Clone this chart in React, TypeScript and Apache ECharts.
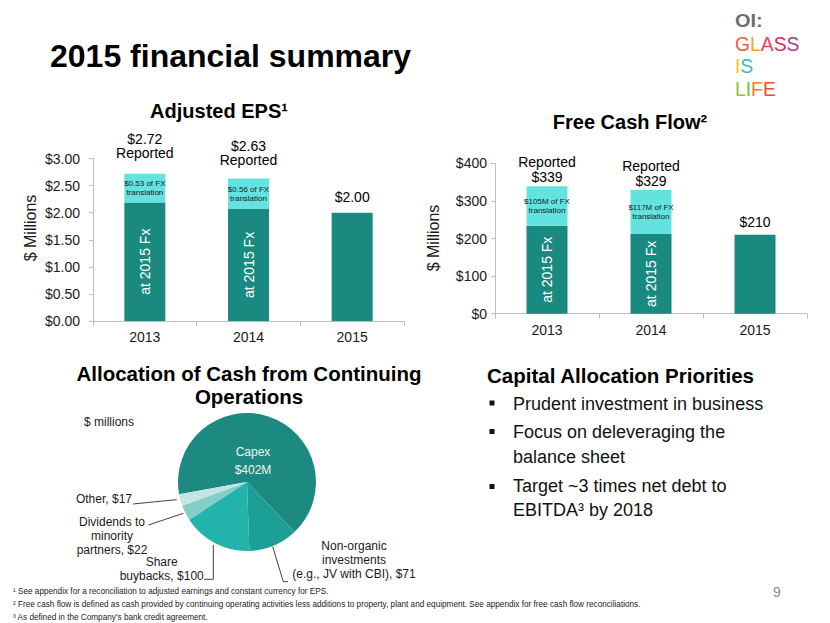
import React, { useEffect, useRef } from 'react';
import * as echarts from 'echarts';

// ---------- data ----------
const years = ['2013', '2014', '2015'];
const epsAt2015Fx = [2.19, 2.07, 2.0];
const epsFxTranslation = [0.53, 0.56, 0];
const epsReported = [2.72, 2.63, 2.0];
const epsFxText = ['$0.53 of FX\ntranslation', '$0.56 of FX\ntranslation', ''];

const fcfAt2015Fx = [234, 212, 210];
const fcfFxTranslation = [105, 117, 0];
const fcfReported = [339, 329, 210];
const fcfFxText = ['$105M of FX\ntranslation', '$117M of FX\ntranslation', ''];

const allocationNames = [
  'Capex',
  'Non-organic\ninvestments\n(e.g., JV with CBI)',
  'Share\nbuybacks',
  'Dividends to\nminority\npartners',
  'Other',
];
const allocationValues = [402, 71, 100, 22, 17];

const priorities = [
  ['Prudent investment in business'],
  ['Focus on deleveraging the', 'balance sheet'],
  ['Target ~3 times net debt to', 'EBITDA\u00b3 by 2018'],
];

const footnotes = [
  '\u00b9 See appendix for a reconciliation to adjusted earnings and constant currency for EPS.',
  '\u00b2 Free cash flow is defined as cash provided by continuing operating activities less additions to property, plant and equipment. See appendix for free cash flow reconciliations.',
  '\u00b3 As defined in the Company\u2019s bank credit agreement.',
];

// ---------- styles ----------
const FONT = 'Liberation Sans, Arial, Helvetica, sans-serif';
const DARK = '#1A8A80';
const LIGHT = '#62E3E0';
const PIE_COLORS = ['#1C8A80', '#1C9F97', '#22B4AC', '#84CDC8', '#C3E6E3'];
const AXIS = '#BFBFBF';
const INK = '#1a1a1a';
const EPS_LABEL_GAP = [13, 11, 8];
const FCF_LABEL_GAP = [2, 2, 5];

const pieLabelPlacement: any[] = [
  { x: 253, y: 461, align: 'center' },
  { x: 354, y: 560, align: 'center', line: [[272.7, 546.7], [283.3, 581.7], [288, 581.7]] },
  { x: 161.7, y: 569, align: 'center', line: [[213.3, 545], [213.3, 579.3], [204, 579.3]] },
  { x: 112, y: 536, align: 'center', line: [[183.3, 513.3], [165.8, 519.2], [148.3, 525]] },
  { x: 132, y: 499, align: 'right', line: [[176.7, 499.7], [154.7, 501.8], [133, 504]] },
];

function text(x: number, y: number, t: string, o: any = {}) {
  const align = o.align || 'left';
  const va = o.va || 'middle';
  return {
    type: 'text',
    x,
    y,
    rotation: o.rotation || 0,
    scaleX: o.scaleX || 1,
    silent: true,
    style: {
      text: t,
      fill: o.color || INK,
      fontFamily: FONT,
      fontSize: o.size || 14,
      fontWeight: o.weight || 'normal',
      lineHeight: o.lineHeight,
      align,
      textAlign: align,
      verticalAlign: va,
      textVerticalAlign: va,
    },
  };
}

function richLetters(x: number, y: number, letters: string[], colors: string[], size: number) {
  const rich: any = {};
  let str = '';
  letters.forEach((l, i) => {
    rich['c' + i] = { fill: colors[i], color: colors[i], fontSize: size, fontFamily: FONT };
    str += `{c${i}|${l}}`;
  });
  return {
    type: 'text',
    x,
    y,
    scaleX: 0.92,
    silent: true,
    style: {
      text: str,
      fontFamily: FONT,
      fontSize: size,
      align: 'left',
      textAlign: 'left',
      verticalAlign: 'middle',
      textVerticalAlign: 'middle',
      rich,
    },
  };
}

function buildOption() {
  const yAxisCommon = {
    axisLine: { show: true, lineStyle: { color: AXIS, width: 1 } },
    axisTick: { show: true, length: 4, lineStyle: { color: AXIS } },
    splitLine: { show: false },
    axisLabel: { color: INK, fontFamily: FONT, fontSize: 14 },
  };
  const xAxisCommon = {
    type: 'category',
    data: years,
    axisLine: { show: true, lineStyle: { color: AXIS, width: 1 } },
    axisTick: { show: true, length: 5, lineStyle: { color: AXIS } },
    axisLabel: { color: INK, fontFamily: FONT, fontSize: 14, margin: 9 },
  };

  const graphic: any[] = [];
  graphic.push(text(50, 56, '2015 financial summary', { size: 32, weight: 'bold', color: '#000' }));
  graphic.push(text(219, 111, 'Adjusted EPS\u00b9', { size: 20, weight: 'bold', align: 'center', color: '#000' }));
  graphic.push(text(630, 122, 'Free Cash Flow\u00b2', { size: 20, weight: 'bold', align: 'center', color: '#000' }));
  graphic.push(text(30, 228, '$ Millions', { size: 16, align: 'center', rotation: Math.PI / 2 }));
  graphic.push(text(433, 238, '$ Millions', { size: 16, align: 'center', rotation: Math.PI / 2 }));
  graphic.push(
    text(249, 385, 'Allocation of Cash from Continuing\nOperations', {
      size: 20.5,
      weight: 'bold',
      align: 'center',
      lineHeight: 23.5,
      color: '#000',
    })
  );
  graphic.push(text(84, 421.5, '$ millions', { size: 12 }));

  // capital allocation priorities
  graphic.push(text(487, 375, 'Capital Allocation Priorities', { size: 20.5, weight: 'bold', color: '#000' }));
  const lineYs = [[403.5], [431.5, 456.5], [486, 510]];
  const bulletYs = [403, 431.5, 486.5];
  priorities.forEach((lines, i) => {
    graphic.push({
      type: 'rect',
      silent: true,
      shape: { x: 489.5, y: bulletYs[i] - 2.5, width: 5, height: 5 },
      style: { fill: '#111' },
    });
    lines.forEach((ln, j) => {
      graphic.push(text(513, lineYs[i][j], ln, { size: 18, color: '#111' }));
    });
  });

  // footnotes
  const fnYs = [591, 604, 617];
  footnotes.forEach((f, i) => {
    graphic.push(text(13, fnYs[i], f, { size: 8.2, color: '#222' }));
  });
  graphic.push(text(777, 592, '9', { size: 14, color: '#8C8C8C', align: 'center' }));

  // logo
  graphic.push(text(735, 20.5, 'OI:', { size: 19, weight: 'bold', color: '#6D6E70', scaleX: 1.05 }));
  graphic.push(
    richLetters(735, 44, ['G', 'L', 'A', 'S', 'S'], ['#F15A3A', '#F8A51C', '#EF4358', '#D6295E', '#A0419A'], 21)
  );
  graphic.push(richLetters(735, 66, ['I', 'S'], ['#F9C30E', '#3BBDB5'], 21));
  graphic.push(richLetters(735, 89, ['L', 'I', 'F', 'E'], ['#8DC63F', '#72BE44', '#F47B20', '#EF4A3A'], 21));

  const innerFx = (arr: string[]) => ({
    show: true,
    position: 'inside',
    formatter: (p: any) => arr[p.dataIndex],
    color: '#1a1a1a',
    fontFamily: FONT,
    fontSize: 8,
    lineHeight: 9,
  });
  const rotated = (count: number) => ({
    show: true,
    position: 'inside',
    rotate: 90,
    formatter: (p: any) => (p.dataIndex < count ? 'at 2015 Fx' : ''),
    color: '#ffffff',
    fontFamily: FONT,
    fontSize: 14,
  });

  return {
    animation: false,
    backgroundColor: '#ffffff',
    textStyle: { fontFamily: FONT },
    graphic,
    grid: [
      { left: 93, top: 158.5, width: 311, height: 162.5 },
      { left: 495, top: 163.3, width: 312, height: 150.4 },
    ],
    xAxis: [
      { ...xAxisCommon, gridIndex: 0 },
      { ...xAxisCommon, gridIndex: 1 },
    ],
    yAxis: [
      {
        ...yAxisCommon,
        type: 'value',
        gridIndex: 0,
        min: 0,
        max: 3,
        interval: 0.5,
        axisLabel: { ...yAxisCommon.axisLabel, margin: 13, formatter: (v: number) => '$' + v.toFixed(2) },
      },
      {
        ...yAxisCommon,
        type: 'value',
        gridIndex: 1,
        min: 0,
        max: 400,
        interval: 100,
        axisLabel: { ...yAxisCommon.axisLabel, margin: 8, formatter: (v: number) => '$' + v },
      },
    ],
    series: [
      {
        type: 'bar',
        name: 'EPS at 2015 Fx',
        xAxisIndex: 0,
        yAxisIndex: 0,
        stack: 'eps',
        barWidth: 41,
        data: epsAt2015Fx,
        itemStyle: { color: DARK },
        label: rotated(2),
      },
      {
        type: 'bar',
        name: 'EPS FX translation',
        xAxisIndex: 0,
        yAxisIndex: 0,
        stack: 'eps',
        barWidth: 41,
        data: epsFxTranslation,
        itemStyle: { color: LIGHT },
        label: innerFx(epsFxText),
      },
      {
        type: 'scatter',
        name: 'EPS reported',
        xAxisIndex: 0,
        yAxisIndex: 0,
        symbolSize: 0,
        data: epsReported.map((v, i) => ({ value: v, label: { distance: EPS_LABEL_GAP[i] } })),
        itemStyle: { color: 'rgba(0,0,0,0)', opacity: 1 },
        label: {
          show: true,
          position: 'top',
          color: '#000',
          fontFamily: FONT,
          fontSize: 14,
          lineHeight: 14.5,
          formatter: (p: any) =>
            '$' + Number(p.value).toFixed(2) + (epsFxTranslation[p.dataIndex] > 0 ? '\nReported' : ''),
        },
      },
      {
        type: 'bar',
        name: 'FCF at 2015 Fx',
        xAxisIndex: 1,
        yAxisIndex: 1,
        stack: 'fcf',
        barWidth: 41,
        data: fcfAt2015Fx,
        itemStyle: { color: DARK },
        label: rotated(2),
      },
      {
        type: 'bar',
        name: 'FCF FX translation',
        xAxisIndex: 1,
        yAxisIndex: 1,
        stack: 'fcf',
        barWidth: 41,
        data: fcfFxTranslation,
        itemStyle: { color: LIGHT },
        label: innerFx(fcfFxText),
      },
      {
        type: 'scatter',
        name: 'FCF reported',
        xAxisIndex: 1,
        yAxisIndex: 1,
        symbolSize: 0,
        data: fcfReported.map((v, i) => ({ value: v, label: { distance: FCF_LABEL_GAP[i] } })),
        itemStyle: { color: 'rgba(0,0,0,0)', opacity: 1 },
        label: {
          show: true,
          position: 'top',
          color: '#000',
          fontFamily: FONT,
          fontSize: 14,
          lineHeight: 14.5,
          formatter: (p: any) =>
            (fcfFxTranslation[p.dataIndex] > 0 ? 'Reported\n' : '') + '$' + p.value,
        },
      },
      {
        type: 'pie',
        name: 'Allocation of Cash',
        center: [247, 482],
        radius: 69,
        startAngle: 190.2,
        clockwise: true,
        avoidLabelOverlap: false,
        data: allocationNames.map((n, i) => ({
          name: n,
          value: allocationValues[i],
          itemStyle: { color: PIE_COLORS[i] },
          label: i === 0 ? { color: '#F2F2F2', lineHeight: 18 } : undefined,
          labelLine: i === 0 ? { show: false } : undefined,
        })),
        label: {
          show: true,
          position: 'outside',
          color: INK,
          fontFamily: FONT,
          fontSize: 12,
          lineHeight: 14,
          formatter: (p: any) =>
            p.dataIndex === 0 ? `Capex\n$${p.value}M` : `${p.name}, $${p.value}`,
        },
        labelLine: { show: true, lineStyle: { color: '#404040', width: 1 } },
        labelLayout: (p: any) => {
          const c = pieLabelPlacement[p.dataIndex];
          const r: any = { x: c.x, y: c.y, align: c.align, verticalAlign: 'middle' };
          if (c.line) r.labelLinePoints = c.line;
          return r;
        },
        emphasis: { disabled: true },
      },
    ],
  };
}

export default function App() {
  const ref = useRef<HTMLDivElement>(null);
  useEffect(() => {
    if (!ref.current) return;
    const chart = echarts.init(ref.current, undefined, { renderer: 'svg' });
    chart.setOption(buildOption() as any);
    return () => chart.dispose();
  }, []);
  return (
    <div
      ref={ref}
      style={{ position: 'absolute', left: 0, top: 0, width: 830, height: 623, background: '#fff' }}
    />
  );
}
